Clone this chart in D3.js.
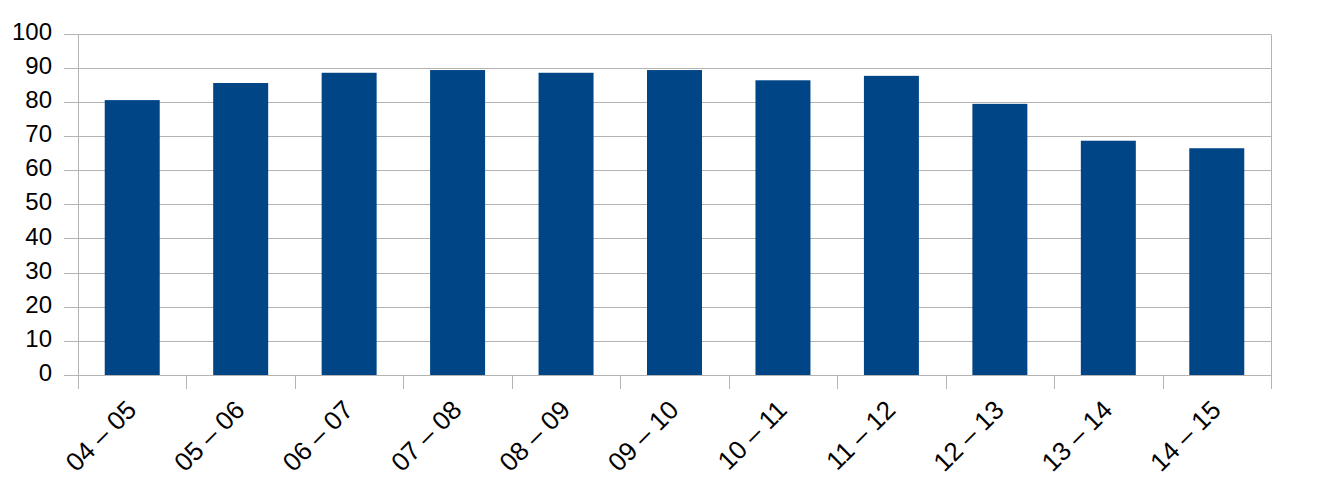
<!DOCTYPE html>
<html>
<head>
<meta charset="utf-8">
<script src="https://cdn.jsdelivr.net/npm/d3@7"></script>
<style>
  html, body { margin: 0; padding: 0; background: #fff; }
  svg { display: block; }
  text { font-family: "Liberation Sans", Arial, sans-serif; fill: #000; }
</style>
</head>
<body>
<svg id="chart" width="1335" height="490"></svg>
<script>
const categories = ["04 – 05", "05 – 06", "06 – 07", "07 – 08", "08 – 09", "09 – 10", "10 – 11", "11 – 12", "12 – 13", "13 – 14", "14 – 15"];
const values = [80.5, 85.5, 88.5, 89.3, 88.5, 89.3, 86.3, 87.6, 79.4, 68.6, 66.4];
const yTicks = [0, 10, 20, 30, 40, 50, 60, 70, 80, 90, 100];

(function () {
const svg = d3.select("#chart");
const mLeft = 78, mRight = 1271, mTop = 33.5, mBottom = 375;

const x = d3.scaleBand().domain(categories).range([mLeft, mRight]).paddingInner(0.493).paddingOuter(0.2465);
const xOuter = d3.scaleBand().domain(categories).range([mLeft, mRight]);
const y = d3.scaleLinear().domain([0, 100]).range([mBottom, mTop]);

const gridColor = "#b3b3b3";

svg.append("g").selectAll("line").data(yTicks).join("line")
  .attr("x1", mLeft - 14).attr("x2", mRight)
  .attr("y1", d => Math.round(y(d)) + 0.5).attr("y2", d => Math.round(y(d)) + 0.5)
  .attr("stroke", gridColor).attr("stroke-width", 1);

const boundaries = categories.map(c => xOuter(c)).concat([mRight]);
svg.append("g").selectAll("line").data(boundaries).join("line")
  .attr("x1", d => Math.round(d) + 0.5).attr("x2", d => Math.round(d) + 0.5)
  .attr("y1", (d, i) => (i === 0 || i === boundaries.length - 1) ? Math.round(mTop) + 0.5 : mBottom)
  .attr("y2", mBottom + 14)
  .attr("stroke", gridColor).attr("stroke-width", 1);

svg.append("g").selectAll("rect").data(values).join("rect")
  .attr("x", (d, i) => x(categories[i]))
  .attr("width", x.bandwidth())
  .attr("y", d => y(d))
  .attr("height", d => y(0) - y(d))
  .attr("fill", "#004586");

svg.append("line")
  .attr("x1", mLeft - 14).attr("x2", mRight)
  .attr("y1", Math.round(y(0)) + 0.5).attr("y2", Math.round(y(0)) + 0.5)
  .attr("stroke", gridColor).attr("stroke-width", 1);

svg.append("g").selectAll("text").data(yTicks).join("text")
  .attr("x", 52).attr("y", d => y(d))
  .attr("dy", "0.26em")
  .attr("text-anchor", "end")
  .style("font-size", "24px")
  .text(d => d);

svg.append("g").selectAll("text").data(categories).join("text")
  .attr("transform", d => `translate(${xOuter(d) + xOuter.bandwidth() / 2 - 1},${mBottom + 30}) rotate(-45)`)
  .attr("text-anchor", "end")
  .attr("dy", "0.36em")
  .style("font-size", "26px")
  .text(d => d);
})();
</script>
</body>
</html>
